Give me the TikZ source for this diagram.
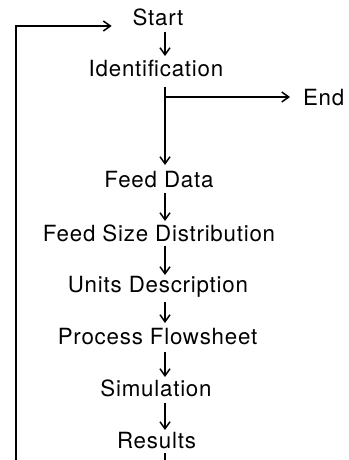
\documentclass[tikz,border=0pt]{standalone}
\usepackage{fontspec}
\setmainfont{TeX Gyre Heros}[LetterSpace=3.5]
\usetikzlibrary{arrows.meta}
\begin{document}
\begin{tikzpicture}[x=1pt,y=-1pt,
  lbl/.style={font=\fontsize{22.3}{26}\selectfont, inner sep=0pt, outer sep=0pt, text height=16pt, text depth=4.5pt, anchor=base},
  arr/.style={line width=1.5pt, -{Straight Barb[length=7pt,width=10pt,line width=1.5pt]}},
  ln/.style={line width=1.5pt}]
\useasboundingbox (0,0) rectangle (348,460);
\node[lbl] (start) at (158,26) {Start};
\node[lbl] (ident) at (156,77) {Identification};
\node[lbl,anchor=base west] (endn) at (303,105) {End};
\node[lbl] (feed) at (159,187) {Feed Data};
\node[lbl] (fsd) at (159,241) {Feed Size Distribution};
\node[lbl] (units) at (158,292) {Units Description};
\node[lbl] (pf) at (157.5,344) {Process Flowsheet};
\node[lbl] (sim) at (156,396) {Simulation};
\node[lbl] (res) at (156.5,448) {Results};
\coordinate (ax) at (165,0);
\coordinate (branch) at (165,97);
\coordinate (bot) at (165,460);
\coordinate (loopb) at (16,460);
\draw[arr, shorten <=1.5pt, shorten >=5pt] (start.south -| ax) -- (ident.north -| ax);
\draw[arr, shorten <=5pt, shorten >=6pt] (ident.south -| ax) -- (feed.north -| ax);
\draw[arr, shorten >=13pt] (branch) -- (branch -| endn.west);
\draw[arr, shorten <=1pt, shorten >=4pt] (feed.south -| ax) -- (fsd.north -| ax);
\draw[arr, shorten <=0pt, shorten >=1pt] (fsd.south -| ax) -- (units.north -| ax);
\draw[arr, shorten <=5pt, shorten >=5pt] (units.south -| ax) -- (pf.north -| ax);
\draw[arr, shorten <=3pt, shorten >=3pt] (pf.south -| ax) -- (sim.north -| ax);
\draw[arr, shorten <=2pt, shorten >=2pt] (sim.south -| ax) -- (res.north -| ax);
\draw[ln, shorten <=0.5pt] (res.south -| ax) -- (bot);
\draw[arr, shorten >=21pt] (loopb) |- (start.base west);
\end{tikzpicture}
\end{document}
